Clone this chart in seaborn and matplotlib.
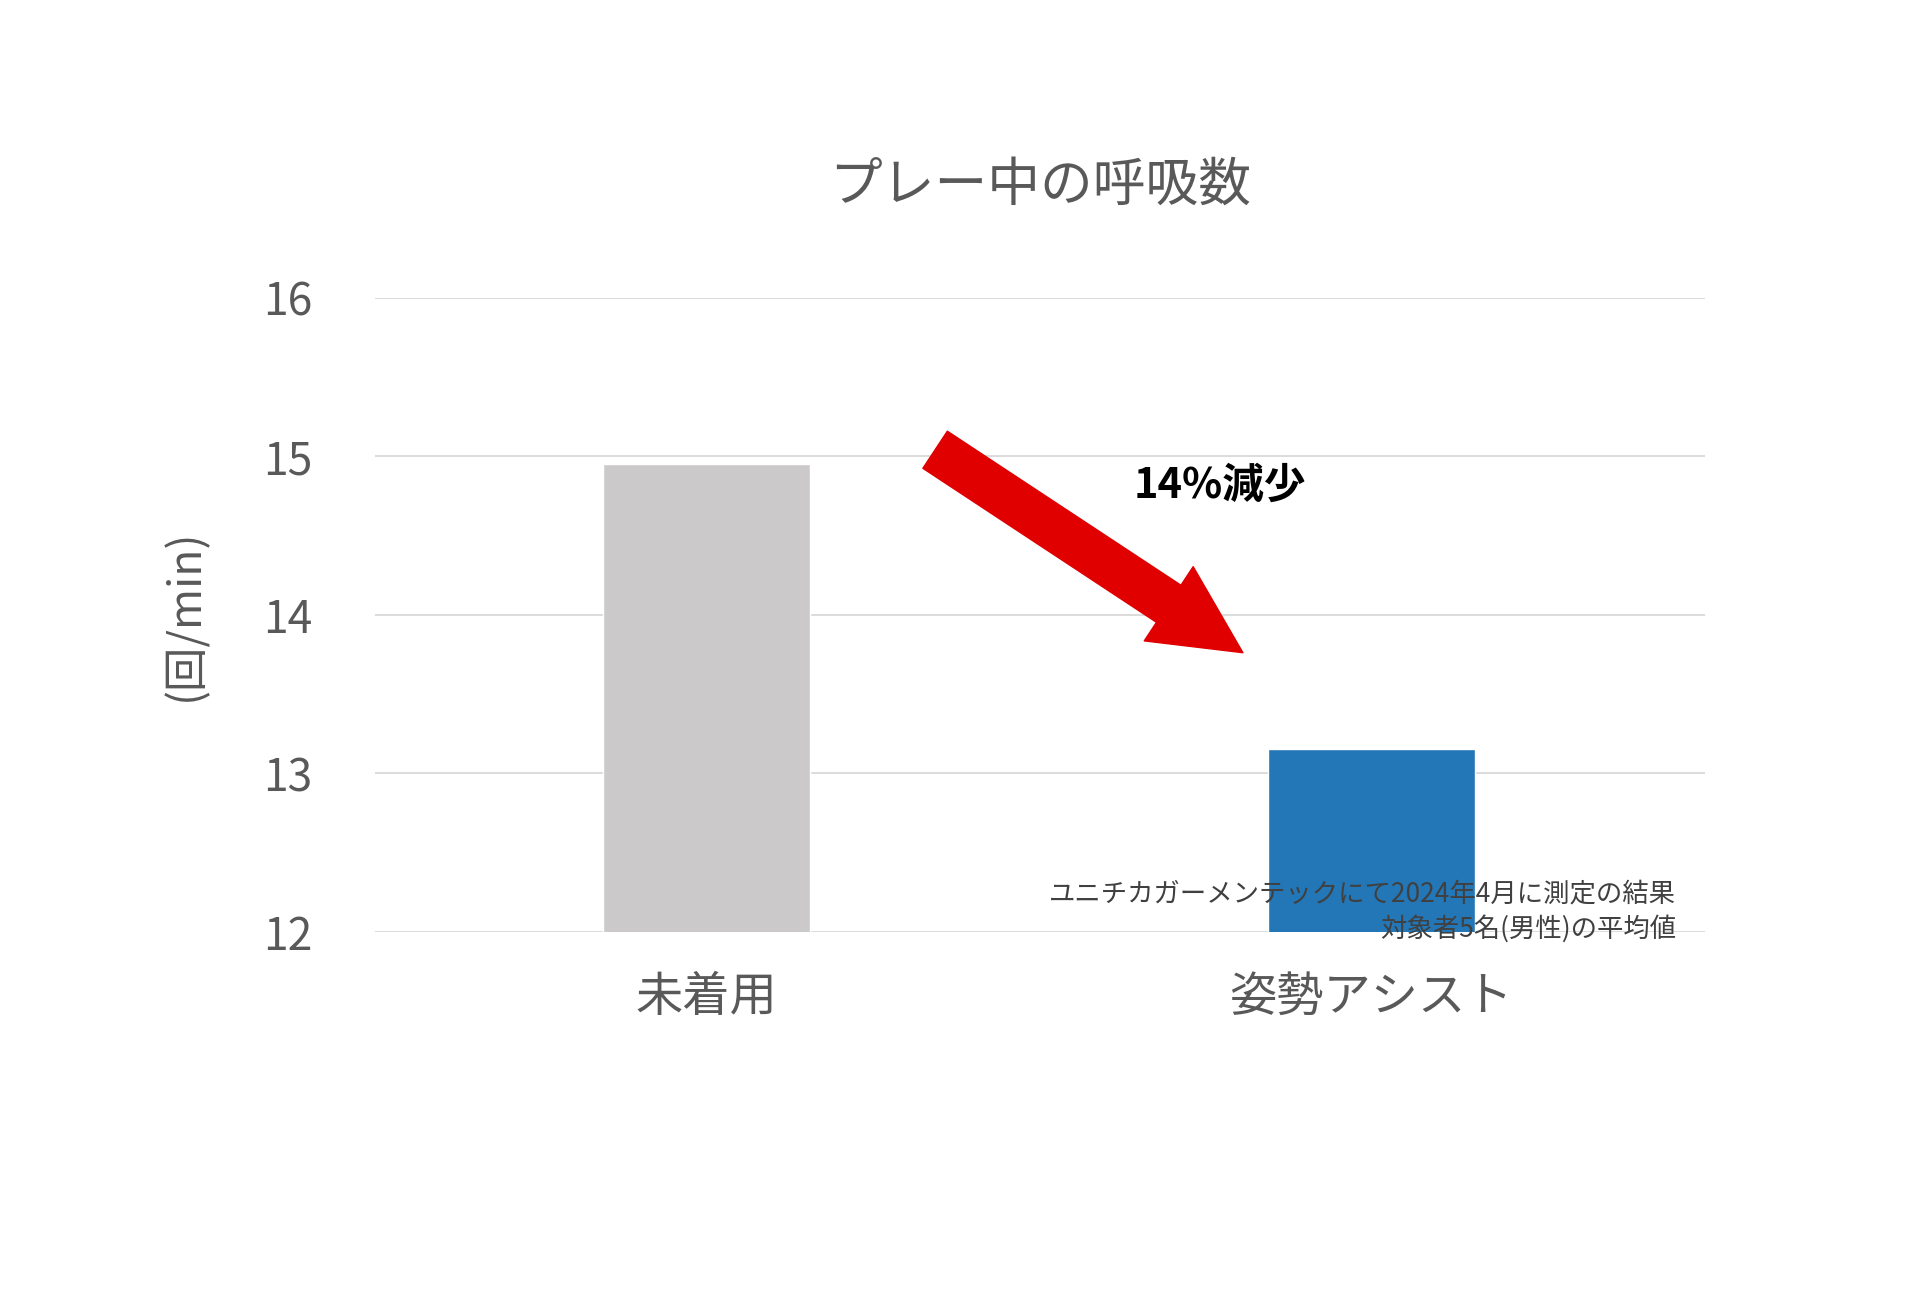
import matplotlib
matplotlib.use("Agg")
import matplotlib.pyplot as plt
import seaborn as sns
import pandas as pd

categories = ["未着用", "姿勢アシスト"]
values = [14.95, 13.15]
colors = ["#CBC9CA", "#0B7BCF"]
yticks = [12, 13, 14, 15, 16]

sns.set_theme(style="white")
plt.rcParams['font.family'] = ['Noto Sans CJK JP', 'DejaVu Sans']

fig = plt.figure(figsize=(19.2, 13.05), dpi=100)
ax = fig.add_axes([0.1955, 0.286, 0.6925, 0.486])
df = pd.DataFrame({"cat": categories, "val": values})
sns.barplot(data=df, x="cat", y="val", hue="cat", palette=colors, width=0.311,
            legend=False, ax=ax, bottom=0)
ax.set_ylim(12, 16)
ax.set_xlim(-0.498, 1.502)
ax.set_yticks(yticks)
ax.set_yticklabels([str(t) for t in yticks], fontsize=32, color="#595959")
ax.tick_params(axis="x", labelsize=34, labelcolor="#595959", pad=30, length=0)
ax.tick_params(axis="y", pad=45, length=0)
ax.yaxis.grid(True, color="#D9D9D9", linewidth=1.3)
ax.set_axisbelow(True)
for s in ax.spines.values():
    s.set_visible(False)
ax.set_xlabel("")
ax.set_ylabel("(回/min)", fontsize=32, color="#595959", labelpad=40)
ax.set_title("プレー中の呼吸数", fontsize=38, color="#595959", pad=70)

ax.annotate("", xy=(0.807, 13.76), xytext=(0.344, 15.04),
            arrowprops=dict(arrowstyle="simple,head_length=1.6,head_width=1.6,tail_width=0.8",
                            color="#E00000", mutation_scale=40, shrinkA=0, shrinkB=0))
ax.text(0.772, 14.81, "14%減少", fontsize=30, fontweight="bold", color="black",
        ha="center", va="center")

fig.text(0.873, 0.325, "ユニチカガーメンテックにて2024年4月に測定の結果\n対象者5名(男性)の平均値",
         ha="right", va="top", fontsize=19, color="#404040", linespacing=1.3)

fig.savefig("out.png", dpi=100, facecolor="white")
